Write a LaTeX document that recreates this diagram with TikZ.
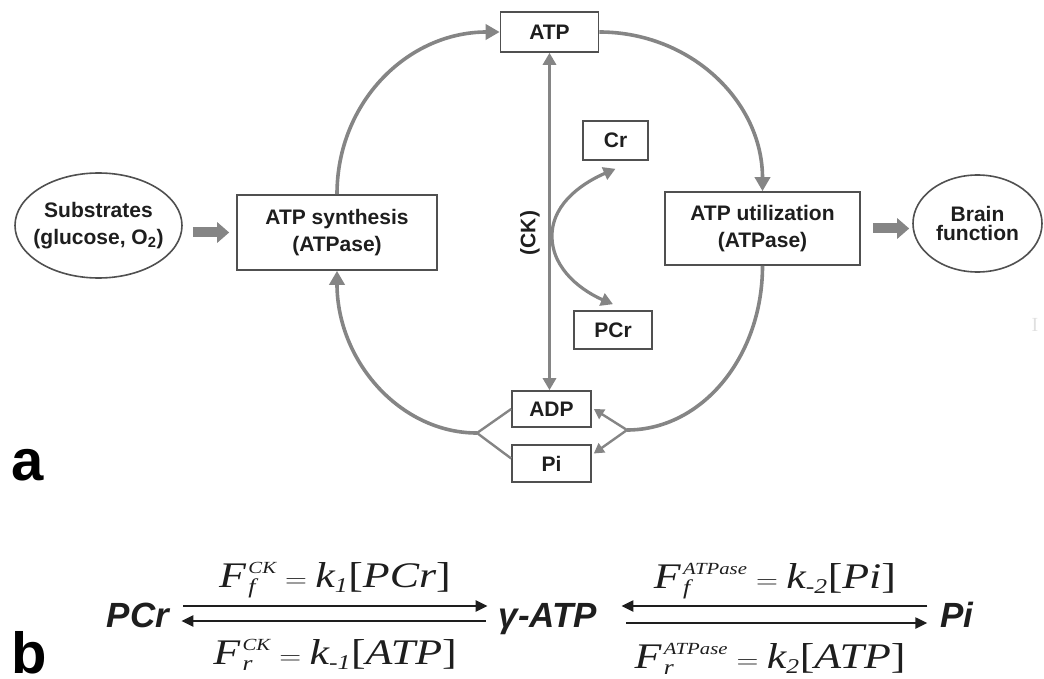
\documentclass[tikz,border=0pt]{standalone}
\usepackage{fontspec}
\usepackage{amsmath}
\setmainfont{Liberation Serif}
\setsansfont{Liberation Sans}
\usetikzlibrary{arrows.meta,calc,shapes.geometric}
\definecolor{flowc}{HTML}{858585}
\definecolor{boxc}{HTML}{505050}
\definecolor{txt}{HTML}{1E1E1E}
\newcommand{\mi}[1]{\textit{#1}}
\newcommand{\sps}[1]{\mbox{\fontsize{17}{17}\selectfont\itshape #1}}
\newcommand{\sbs}[1]{\mbox{\fontsize{21}{21}\selectfont\itshape #1}}
\newcommand{\brk}[1]{\textup{[}\mi{#1}\textup{]}}
\newcommand{\wideq}[1]{\scalebox{1.22}[1]{#1}}
\begin{document}
\begin{tikzpicture}[x=1pt,y=-1pt,
 box/.style={draw=boxc,line width=1.6pt,fill=white,text=txt,align=center,inner sep=0pt,font=\sffamily\bfseries\fontsize{21}{27}\selectfont},
 oval/.style={box,ellipse},
 txtlbl/.style={text=txt,align=center,inner sep=0pt,font=\sffamily\bfseries\fontsize{21}{27}\selectfont},
 flow/.style={draw=flowc,line width=3.6pt,-{Triangle[length=14pt,width=15pt]}},
 flowline/.style={draw=flowc,line width=3.6pt},
 branch/.style={draw=flowc,line width=2.4pt},
 barr/.style={branch,-{Triangle[length=10pt,width=11pt]}},
 ckflow/.style={draw=flowc,line width=3.2pt,{Triangle[length=12pt,width=13pt]}-{Triangle[length=12pt,width=13pt]}},
 fat/.style={draw=flowc,line width=10pt,-{Triangle[length=12pt,width=20pt]}},
 eq/.style={font=\fontsize{36}{36}\selectfont,inner sep=0pt,text=txt},
 spec/.style={font=\sffamily\bfseries\itshape\fontsize{35}{35}\selectfont,inner sep=0pt,text=txt,anchor=base},
 rx/.style={draw=txt,line width=2.4pt},
 rxtip/.style={rx,-{Triangle[length=12pt,width=11pt]}},
 panel/.style={font=\sffamily\bfseries\fontsize{58}{58}\selectfont,inner sep=0pt,anchor=base west,text=black},
]
\useasboundingbox (0,0) rectangle (1044,679);

% boxes
\node[box,minimum width=98pt,minimum height=40pt] (atp) at (549.5,32) {ATP};
\node[box,minimum width=65pt,minimum height=39pt] (cr) at (615.5,140.5) {Cr};
\node[box,minimum width=78pt,minimum height=38pt] (pcr) at (613,330) {PCr};
\node[box,minimum width=200pt,minimum height=75pt] (syn) at (337,232.5) {ATP synthesis\\(ATPase)};
\node[box,minimum width=195pt,minimum height=73pt] (util) at (762.5,228.5) {ATP utilization\\(ATPase)};
\node[box,minimum width=79pt,minimum height=36pt] (adp) at (551.5,409) {ADP};
\node[box,minimum width=79pt,minimum height=37pt] (pi) at (551.5,463.5) {Pi};
\node[oval,minimum width=167pt,minimum height=105pt] (sub) at (98.5,225.5) {};
\node[txtlbl] (subt) at (sub) {Substrates\\(glucose, O\textsubscript{2})};
\node[oval,minimum width=129pt,minimum height=97pt] (brain) at (977.5,223.5) {};
\node[txtlbl,font=\sffamily\bfseries\fontsize{21}{19}\selectfont] (braint) at (brain) {Brain\\function};
\node[txtlbl,rotate=90] (ck) at (530,233) {(CK)};

% cycle
\coordinate (bl) at (477,433);
\coordinate (br) at (627,430);
\coordinate (ckm) at (552,236);
\draw[flow] (syn.north) .. controls +(0,-92) and +(-92,0) .. (atp.west);
\draw[flow] (atp.east) .. controls +(91,0) and +(0,-90) .. (util.north);
\draw[flow] (bl) .. controls +(-77,0) and +(0,90) .. (syn.south);
\draw[flowline] (util.south) .. controls +(0,91) and +(75,0) .. (br);
\draw[branch] (bl) -- (adp.west);
\draw[branch] (bl) -- ([yshift=5pt]pi.west);
\draw[barr] (br) -- ([xshift=2pt]adp.east);
\draw[barr] (br) -- ([xshift=2pt,yshift=10pt]pi.east);
\draw[ckflow] (atp.south) -- (atp.south |- adp.north);
\draw[ckflow] ([yshift=-8pt]cr.south) .. controls +(-28,12) and +(0,-35) .. (ckm) .. controls +(0,35) and +(-28,-12) .. ([yshift=6pt]pcr.north);

% fat arrows
\draw[fat] ($(sub.east |- syn.west)+(10,0)$) -- ($(syn.west)+(-7,0)$);
\draw[fat] ($(util.east)+(12,0)$) -- ($(brain.west |- util.east)+(-3,0)$);

% panel labels
\node[panel] (la) at (11,480) {a};
\node[panel] (lb) at (11,673) {b};
\node[text=black!12,font=\fontsize{20}{20}\selectfont] (artI) at (1035,325) {I};

% reaction scheme
\node[spec] (pcrq) at (138,627) {PCr};
\node[spec] (gatp) at (548,627) {γ-ATP};
\node[spec] (piq) at (957,627) {Pi};
\draw[rxtip] ($(pcrq.base east)+(14,-21)$) -- ($(gatp.base west)+(-11,-21)$);
\draw[rxtip] ($(gatp.base west)+(-13,-6)$) -- ($(pcrq.base east)+(12,-6)$);
\draw[rxtip] ($(piq.base west)+(-13,-21)$) -- ($(gatp.base east)+(24,-21)$);
\draw[rxtip] ($(gatp.base east)+(29,-4)$) -- ($(piq.base west)+(-13,-4)$);
\node[eq] (ff1) at (335,580) {\wideq{${\mi{F}\kern2pt}^{\sps{CK}}_{\sbs{f}} = \mi{k}_{\sbs{1}}\brk{PCr}$}};
\node[eq] (fr1) at (335,655) {\wideq{${\mi{F}\kern2pt}^{\sps{CK}}_{\sbs{r}} = \mi{k}_{\sbs{-1}}\brk{ATP}$}};
\node[eq] (ff2) at (775,581) {\wideq{${\mi{F}\kern2pt}^{\sps{ATPase}}_{\sbs{f}} = \mi{k}_{\sbs{-2}}\brk{Pi}$}};
\node[eq] (fr2) at (770,659) {\wideq{${\mi{F}\kern2pt}^{\sps{ATPase}}_{\sbs{r}} = \mi{k}_{\sbs{2}}\brk{ATP}$}};
\end{tikzpicture}
\end{document}
